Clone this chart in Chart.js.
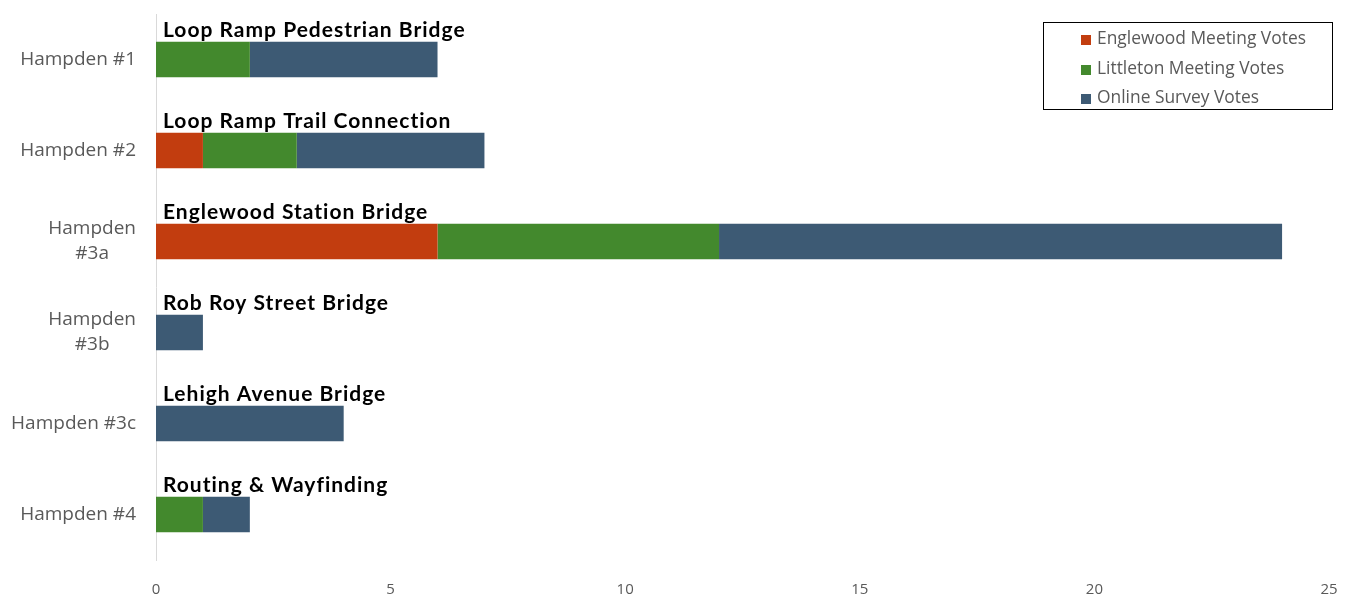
<!DOCTYPE html>
<html>
<head>
<meta charset="utf-8">
<script src="https://cdn.jsdelivr.net/npm/chart.js@4.4.0/dist/chart.umd.min.js"></script>
<style>
  body { margin: 0; background: #fff; }
  #wrap { position: relative; width: 1353px; height: 596px; }
  #legend {
    position: absolute; left: 1043px; top: 22px; width: 288px; height: 86px;
    border: 1.5px solid #000; box-sizing: content-box;
    font-family: "Open Sans", sans-serif; font-size: 17.4px; color: #595959;
  }
  #legend div { position: absolute; left: 37px; height: 20px; line-height: 20px; white-space: nowrap; }
  #legend span { display: inline-block; width: 10px; height: 10px; margin-right: 6px; vertical-align: -1px; }
</style>
</head>
<body>
<div id="wrap">
  <canvas id="chart" width="1353" height="596"></canvas>
  <div id="legend"></div>
</div>
<script>
const categories = [['Hampden #1'], ['Hampden #2'], ['Hampden', '#3a'], ['Hampden', '#3b'], ['Hampden #3c'], ['Hampden #4']];
const projects = ['Loop Ramp Pedestrian Bridge', 'Loop Ramp Trail Connection', 'Englewood Station Bridge',
                  'Rob Roy Street Bridge', 'Lehigh Avenue Bridge', 'Routing & Wayfinding'];
const englewoodVotes = [0, 1, 6, 0, 0, 0];
const littletonVotes = [2, 2, 6, 0, 0, 1];
const onlineVotes = [4, 4, 12, 1, 4, 1];
const xTicks = [0, 5, 10, 15, 20, 25];

const seriesNames = ['Englewood Meeting Votes', 'Littleton Meeting Votes', 'Online Survey Votes'];
const seriesColors = ['#c23d0f', '#43892d', '#3d5a74'];

// bold project names above each bar + y labels (centered second line like Excel)
const labelPlugin = {
  id: 'barLabels',
  afterDatasetsDraw(chart) {
    const ctx = chart.ctx;
    const y = chart.scales.y;
    const x0 = chart.scales.x.getPixelForValue(0);
    ctx.save();
    ctx.fillStyle = '#000';
    ctx.font = 'bold 21px Lato, sans-serif';
    ctx.letterSpacing = '1px';
    ctx.textBaseline = 'alphabetic';
    ctx.textAlign = 'left';
    projects.forEach((p, i) => {
      const cy = y.getPixelForValue(i);
      ctx.fillText(p, x0 + 7, cy - 23);
    });
    ctx.letterSpacing = '0px';

    ctx.font = '19px "Open Sans", sans-serif';
    ctx.fillStyle = '#595959';
    ctx.textBaseline = 'middle';
    const right = x0 - 20;
    categories.forEach((lines, i) => {
      const cy = y.getPixelForValue(i);
      if (lines.length === 1) {
        ctx.textAlign = 'right';
        ctx.fillText(lines[0], right, cy);
      } else {
        const w = ctx.measureText(lines[0]).width;
        ctx.textAlign = 'right';
        ctx.fillText(lines[0], right, cy - 12.5);
        ctx.textAlign = 'center';
        ctx.fillText(lines[1], right - w / 2, cy + 12.5);
      }
    });
    ctx.restore();
  }
};

const datasets = [englewoodVotes, littletonVotes, onlineVotes].map((d, i) => ({
  label: seriesNames[i],
  data: d,
  backgroundColor: seriesColors[i],
  borderWidth: 0,
  barPercentage: 0.39,
  categoryPercentage: 1
}));

new Chart(document.getElementById('chart'), {
  type: 'bar',
  data: { labels: categories.map(c => c.join(' ')), datasets: datasets },
  options: {
    indexAxis: 'y',
    responsive: false,
    animation: false,
    layout: { padding: { top: 14, right: 24, left: 0, bottom: 0 } },
    plugins: { legend: { display: false }, tooltip: { enabled: false } },
    scales: {
      x: {
        stacked: true,
        min: 0, max: 25,
        afterBuildTicks: s => { s.ticks = xTicks.map(v => ({ value: v })); },
        afterFit: s => { s.height = 36; },
        grid: { display: false },
        border: { display: false },
        ticks: { color: '#595959', font: { family: 'Open Sans', size: 15 }, padding: 13 }
      },
      y: {
        stacked: true,
        afterFit: s => { s.width = 156; },
        grid: { display: false },
        border: { display: true, color: '#d9d9d9', width: 1 },
        ticks: { display: false }
      }
    }
  },
  plugins: [labelPlugin]
});

const legend = document.getElementById('legend');
seriesNames.forEach((n, i) => {
  const row = document.createElement('div');
  row.style.top = (4 + i * 29.5) + 'px';
  row.innerHTML = '<span style="background:' + seriesColors[i] + '"></span>' + n;
  legend.appendChild(row);
});
</script>
</body>
</html>
